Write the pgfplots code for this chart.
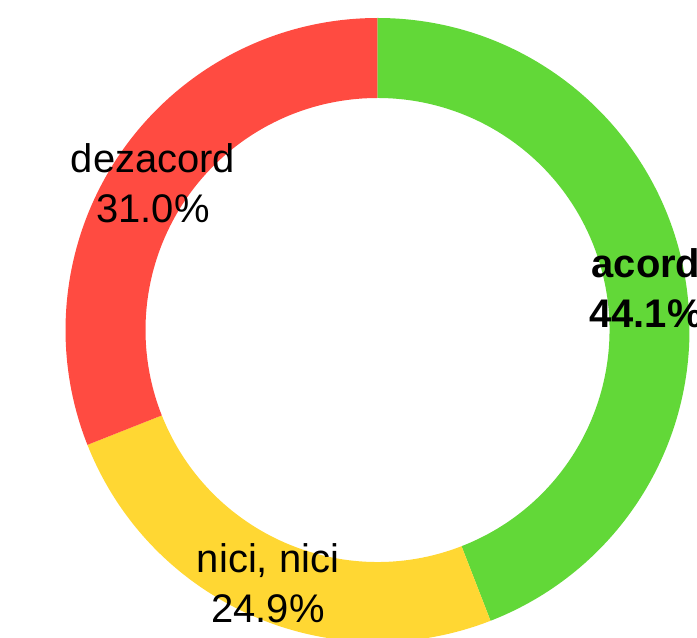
\documentclass[border=0pt]{standalone}
\usepackage{pgfplots}
\pgfplotsset{compat=1.18}
\usepackage{fontspec}
\setmainfont{Liberation Sans}
\definecolor{cgreen}{HTML}{62D838}
\definecolor{cyellow}{HTML}{FFD733}
\definecolor{cred}{HTML}{FF4B41}
% data (percent)
\def\vA{44.1}\def\vB{24.9}\def\vC{31.0}
\def\Ro{4.4763cm}\def\Ri{3.3286cm}\def\Rw{1.1478cm}
\newcommand\seg[3]{\fill[#3] (axis cs:377.5,308) ++(#1:\Ro) arc[start angle=#1,end angle=#2,radius=\Ro] -- ++(#2+180:\Rw) arc[start angle=#2,end angle=#1,radius=\Ri] -- cycle;}
\begin{document}
\begin{tikzpicture}
\pgfmathsetmacro\aA{90}
\pgfmathsetmacro\aB{90-\vA*3.6}
\pgfmathsetmacro\aC{\aB-\vB*3.6}
\pgfmathsetmacro\aD{\aC-\vC*3.6}
\begin{axis}[width=10cm,height=9.1535cm,scale only axis,hide axis,
  xmin=0,xmax=697,ymin=0,ymax=638,clip=true]
\seg{\aA}{\aB}{cgreen}
\seg{\aB}{\aC}{cyellow}
\seg{\aC}{\aD}{cred}
\node[align=center,font=\fontsize{16.3}{20.4}\selectfont\bfseries] at (axis cs:646,350) {acord\\44.1\%};
\node[align=center,font=\fontsize{16.3}{20.4}\selectfont] at (axis cs:153,455) {dezacord\\31.0\%};
\node[align=center,font=\fontsize{16.3}{20.4}\selectfont] at (axis cs:268,55) {nici, nici\\24.9\%};
\end{axis}
\pgfresetboundingbox
\path (current axis.south west) rectangle (current axis.north east);
\end{tikzpicture}
\end{document}
